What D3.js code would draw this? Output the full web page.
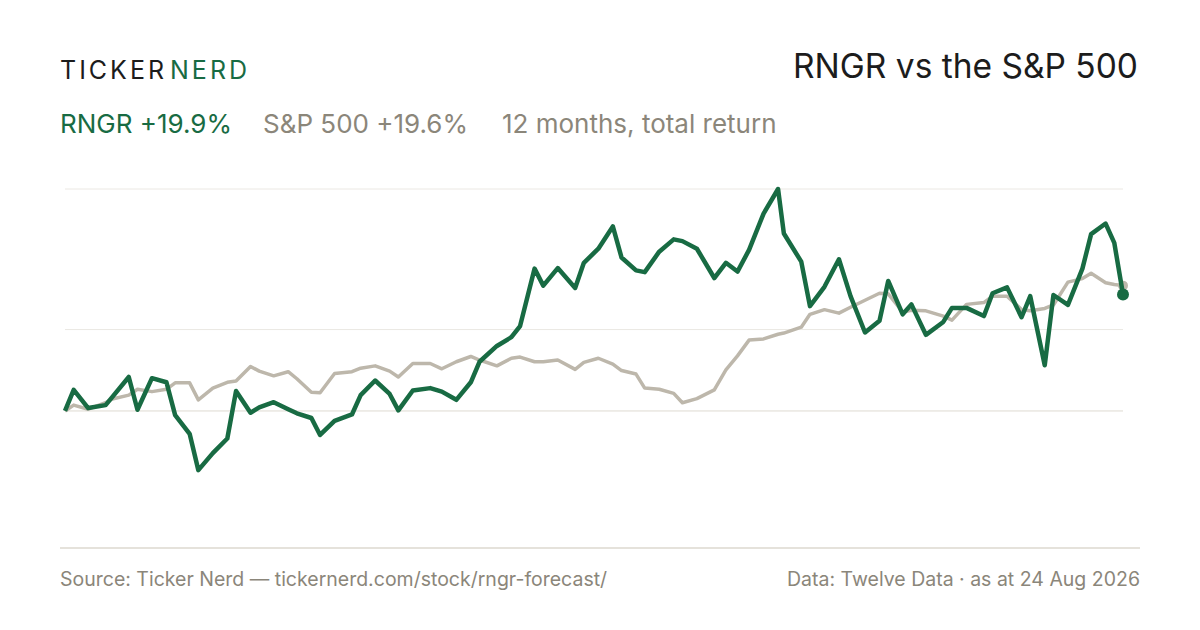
<!DOCTYPE html>
<html>
<head>
<meta charset="utf-8">
<script src="https://cdn.jsdelivr.net/npm/d3@7"></script>
<style>
  html, body { margin: 0; padding: 0; background: #ffffff; }
  svg { display: block; }
</style>
</head>
<body>
<script>
// days since the start of the 12 month window
var days = [0, 3, 8, 14, 16, 22, 25, 30, 35, 38, 43, 46, 51, 56, 59, 64, 67, 72, 77, 80,
  85, 88, 93, 99, 102, 107, 112, 115, 120, 126, 130, 135, 140, 143, 149, 154, 157, 162, 165, 170,
  176, 179, 184, 189, 192, 197, 200, 205, 210, 213, 218, 224, 228, 232, 236, 241, 246, 248, 254, 257,
  262, 267, 271, 276, 281, 284, 289, 292, 297, 303, 306, 311, 317, 320, 325, 330, 333, 338, 341, 346,
  351, 354, 359, 362, 365];

// cumulative total return, %
var rngr = [0, 3.6, 0.5, 1.0, 2.2, 5.8, 0.2, 5.6, 4.9, -0.7, -3.9, -10.1, -7.2, -4.7, 3.4, -0.3, 0.6, 1.5, 0.3, -0.4,
  -1.2, -4.1, -1.7, -0.6, 2.7, 5.2, 2.9, 0.1, 3.5, 3.9, 3.3, 1.9, 4.9, 8.4, 11.1, 12.6, 14.5, 24.3, 21.4, 24.4,
  21.0, 25.3, 27.7, 31.5, 26.2, 24.0, 23.7, 27.2, 29.3, 29.0, 27.7, 22.7, 25.3, 23.8, 27.5, 33.7, 37.9, 30.3, 25.5, 17.9,
  21.2, 25.9, 19.6, 13.4, 15.4, 22.2, 16.5, 18.2, 13.0, 15.2, 17.6, 17.6, 16.2, 20.1, 21.1, 16.0, 19.6, 7.8, 19.8, 18.1,
  24.3, 30.2, 32.0, 28.7, 19.9];

var spx = [0, 1.0, 0.3, 1.4, 2.0, 2.7, 3.7, 3.3, 3.7, 4.8, 4.8, 1.9, 3.9, 4.9, 5.1, 7.6, 6.8, 6.0, 6.7, 5.5,
  3.2, 3.1, 6.4, 6.7, 7.3, 7.7, 6.8, 5.8, 8.1, 8.1, 7.2, 8.4, 9.3, 8.7, 7.7, 9.0, 9.2, 8.4, 8.4, 8.7,
  7.1, 8.3, 9.0, 8.0, 6.9, 6.3, 3.9, 3.7, 3.0, 1.4, 2.1, 3.6, 7.0, 9.4, 12.1, 12.3, 13.1, 13.3, 14.3, 16.5,
  17.3, 16.7, 17.7, 18.9, 20.1, 20.0, 16.9, 17.2, 17.1, 16.2, 15.5, 18.2, 18.5, 19.6, 19.6, 17.3, 17.1, 17.5, 18.1, 22.0,
  22.6, 23.5, 21.9, 21.6, 21.4];

// reference lines: period high, midpoint of range, start
var gridValues = [37.9, 13.9, 0];

var startDate = new Date(Date.UTC(2025, 7, 24));
var endDate = new Date(Date.UTC(2026, 7, 24));

var width = 1200, height = 630;
var green = '#186b43', stone = '#bdb7ab', muted = '#8b867a', ink = '#1c1c1c';
var font = 'Inter, "Liberation Sans", Arial, sans-serif';

var svg = d3.select('body')
    .append('svg')
    .attr('width', width)
    .attr('height', height)
    .style('font-family', font);

var dates = days.map(function (d) { return d3.utcDay.offset(startDate, d); });

var x = d3.scaleUtc()
    .domain([startDate, endDate])
    .range([65, 1123]);

var y = d3.scaleLinear()
    .domain([-23.4, 37.9])
    .range([548, 189]);

// header
var logo = svg.append('text')
    .attr('x', 60)
    .attr('y', 79)
    .style('font-size', '25px')
    .style('letter-spacing', '3px');
logo.append('tspan').attr('fill', ink).text('TICKER');
logo.append('tspan').attr('fill', green).attr('dx', 3).text('NERD');

svg.append('text')
    .attr('x', 1138)
    .attr('y', 78)
    .attr('text-anchor', 'end')
    .attr('fill', ink)
    .style('font-size', '33.5px')
    .text('RNGR vs the S&P 500');

var sub = [
    { text: 'RNGR +19.9%', x: 60, color: green },
    { text: 'S&P 500 +19.6%', x: 263, color: muted },
    { text: '12 months, total return', x: 502, color: muted }
];
svg.selectAll('text.sub')
    .data(sub)
    .enter()
    .append('text')
    .attr('class', 'sub')
    .attr('x', function (d) { return d.x; })
    .attr('y', 133)
    .attr('fill', function (d) { return d.color; })
    .style('font-size', '26px')
    .text(function (d) { return d.text; });

// gridlines
svg.selectAll('line.grid')
    .data(gridValues)
    .enter()
    .append('line')
    .attr('class', 'grid')
    .attr('x1', x(startDate))
    .attr('x2', x(endDate))
    .attr('y1', function (d) { return y(d); })
    .attr('y2', function (d) { return y(d); })
    .attr('stroke', function (d) { return d === 0 ? '#dedad2' : '#ebe8e3'; })
    .attr('stroke-width', 1);

// bottom rule
svg.append('line')
    .attr('x1', 60)
    .attr('x2', 1140)
    .attr('y1', y(-23.4))
    .attr('y2', y(-23.4))
    .attr('stroke', '#dcd8cf')
    .attr('stroke-width', 1.5);

var line = d3.line()
    .x(function (d) { return x(d[0]); })
    .y(function (d) { return y(d[1]); });

var spxPts = d3.zip(dates, spx);
var rngrPts = d3.zip(dates, rngr);

svg.append('path')
    .datum(spxPts)
    .attr('d', line)
    .attr('fill', 'none')
    .attr('stroke', stone)
    .attr('stroke-width', 3.5)
    .attr('stroke-linejoin', 'round');

svg.append('circle')
    .attr('cx', x(dates[dates.length - 1]))
    .attr('cy', y(spx[spx.length - 1]))
    .attr('r', 5)
    .attr('fill', stone);

svg.append('path')
    .datum(rngrPts)
    .attr('d', line)
    .attr('fill', 'none')
    .attr('stroke', green)
    .attr('stroke-width', 4.5)
    .attr('stroke-linejoin', 'round');

svg.append('circle')
    .attr('cx', x(dates[dates.length - 1]))
    .attr('cy', y(rngr[rngr.length - 1]))
    .attr('r', 6)
    .attr('fill', green);

// footer
svg.append('text')
    .attr('x', 60)
    .attr('y', 586)
    .attr('fill', muted)
    .style('font-size', '19.5px')
    .text('Source: Ticker Nerd \u2014 tickernerd.com/stock/rngr-forecast/');

svg.append('text')
    .attr('x', 1140)
    .attr('y', 586)
    .attr('text-anchor', 'end')
    .attr('fill', muted)
    .style('font-size', '19.5px')
    .text('Data: Twelve Data \u00b7 as at 24 Aug 2026');
</script>
</body>
</html>
